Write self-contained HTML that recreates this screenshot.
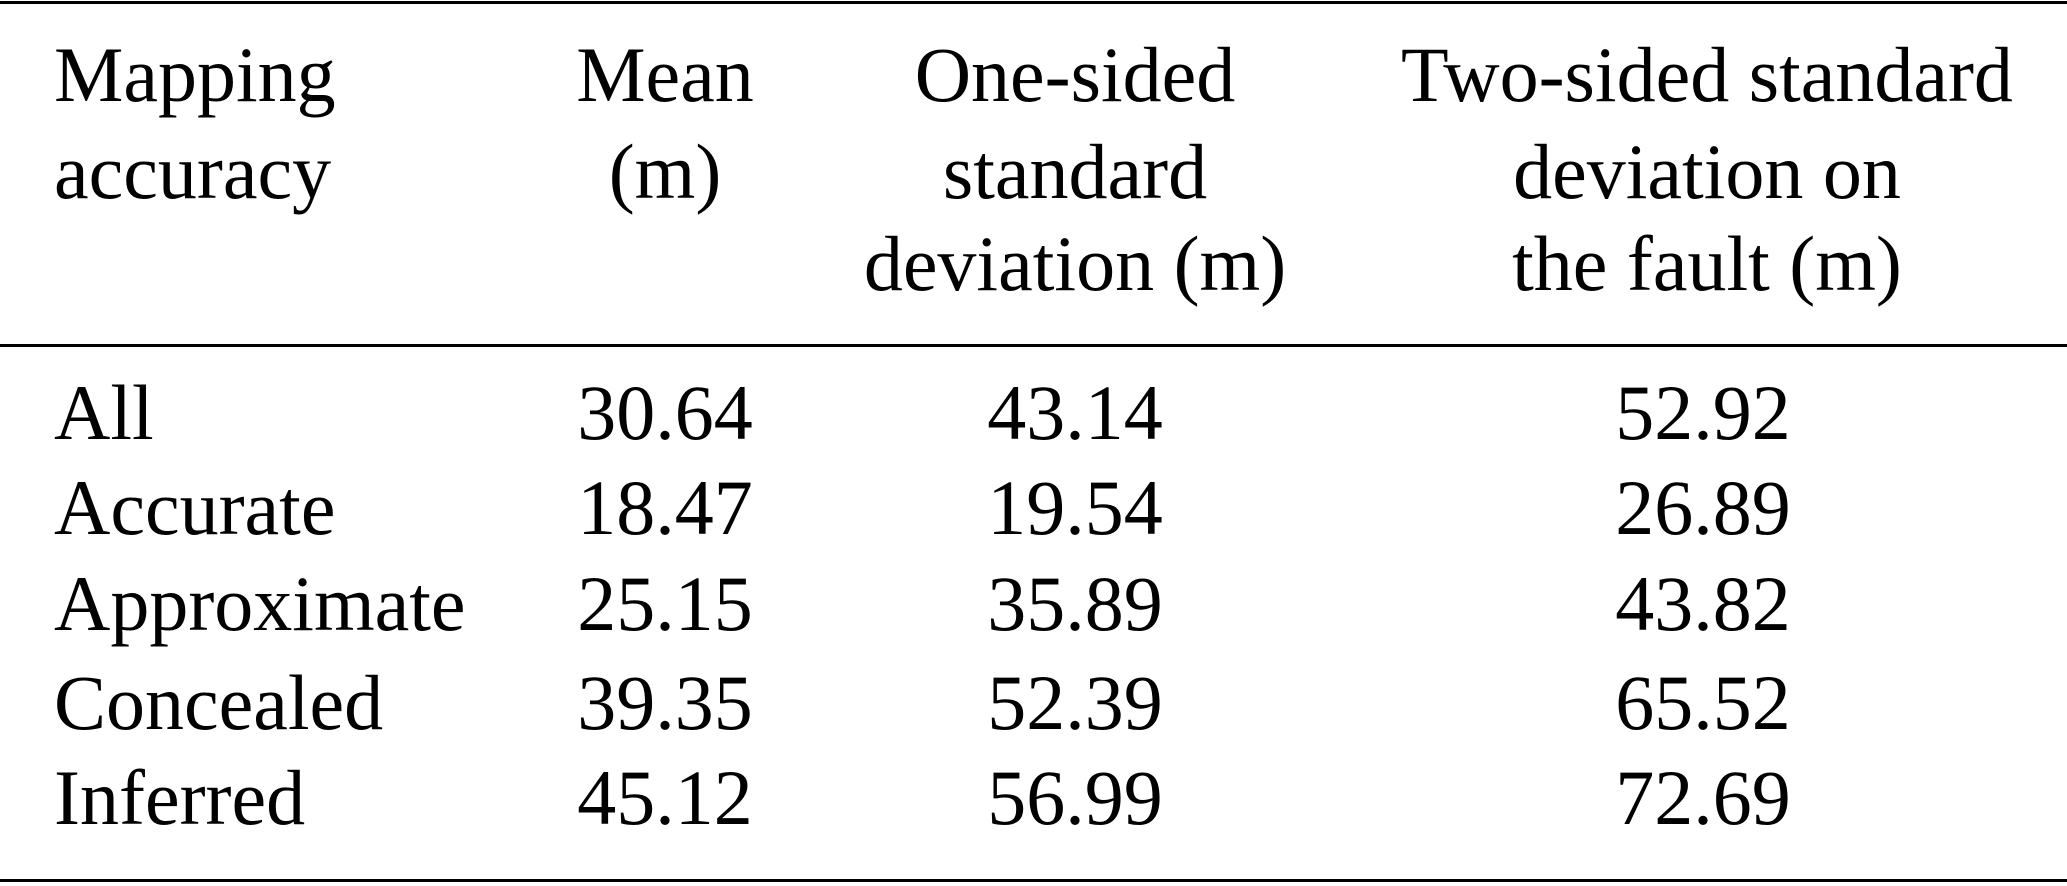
<!DOCTYPE html>
<html><head><meta charset="utf-8"><style>
html,body{margin:0;padding:0;background:#fff;width:2067px;height:886px;overflow:hidden}
svg text{font-family:"Liberation Serif","Times New Roman",serif;font-size:78px;fill:#000}
</style></head><body>
<svg width="2067" height="886" xmlns="http://www.w3.org/2000/svg">
<rect x="0" y="1" width="2067" height="3" fill="#000"/>
<rect x="0" y="344" width="2067" height="3" fill="#000"/>
<rect x="0" y="879" width="2067" height="3" fill="#000"/>
<text x="54" y="101">Mapping</text>
<text x="54" y="198">accuracy</text>
<text x="665" y="101" text-anchor="middle">Mean</text>
<text x="665" y="198" text-anchor="middle">(m)</text>
<text x="1075" y="101" text-anchor="middle">One-sided</text>
<text x="1075" y="198" text-anchor="middle">standard</text>
<text x="1075" y="290" text-anchor="middle">deviation (m)</text>
<text x="1707" y="101" text-anchor="middle">Two-sided standard</text>
<text x="1707" y="198" text-anchor="middle">deviation on</text>
<text x="1707" y="290" text-anchor="middle">the fault (m)</text>
<g>
<text x="54" y="439">All</text><text x="665" y="439" text-anchor="middle">30.64</text><text x="1075" y="439" text-anchor="middle">43.14</text><text x="1703" y="439" text-anchor="middle">52.92</text>
<text x="54" y="534">Accurate</text><text x="665" y="534" text-anchor="middle">18.47</text><text x="1075" y="534" text-anchor="middle">19.54</text><text x="1703" y="534" text-anchor="middle">26.89</text>
<text x="54" y="630">Approximate</text><text x="665" y="630" text-anchor="middle">25.15</text><text x="1075" y="630" text-anchor="middle">35.89</text><text x="1703" y="630" text-anchor="middle">43.82</text>
<text x="54" y="729">Concealed</text><text x="665" y="729" text-anchor="middle">39.35</text><text x="1075" y="729" text-anchor="middle">52.39</text><text x="1703" y="729" text-anchor="middle">65.52</text>
<text x="54" y="824">Inferred</text><text x="665" y="824" text-anchor="middle">45.12</text><text x="1075" y="824" text-anchor="middle">56.99</text><text x="1703" y="824" text-anchor="middle">72.69</text>
</g>
</svg>
</body></html>
